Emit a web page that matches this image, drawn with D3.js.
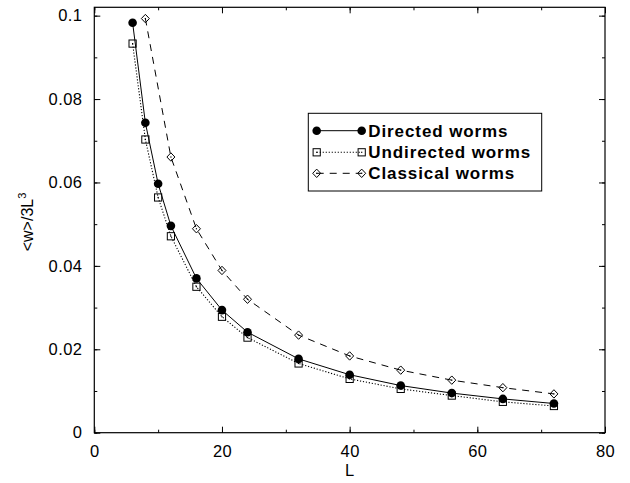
<!DOCTYPE html>
<html><head><meta charset="utf-8">
<script src="https://cdn.jsdelivr.net/npm/d3@7"></script>
<style>body{margin:0;background:#fff}svg{display:block}text{font-family:"Liberation Sans",Arial,Helvetica,sans-serif}</style>
</head><body>
<script>
const L_directed = [6, 8, 10, 12, 16, 20, 24, 32, 40, 48, 56, 64, 72];
const directed   = [0.0983, 0.0743, 0.0597, 0.0496, 0.0370, 0.0294, 0.0241, 0.0177, 0.0139, 0.0113, 0.0095, 0.0081, 0.0070];
const L_undirected = [6, 8, 10, 12, 16, 20, 24, 32, 40, 48, 56, 64, 72];
const undirected   = [0.0933, 0.0703, 0.0564, 0.0471, 0.0350, 0.0278, 0.0228, 0.0166, 0.0129, 0.0105, 0.0089, 0.0074, 0.0064];
const L_classical = [8, 12, 16, 20, 24, 32, 40, 48, 56, 64, 72];
const classical   = [0.0993, 0.0661, 0.0489, 0.0389, 0.0320, 0.0234, 0.0184, 0.0150, 0.0126, 0.0108, 0.0093];
const xTicks = [0, 20, 40, 60, 80];
const yTicks = [0, 0.02, 0.04, 0.06, 0.08, 0.1];
const yTickLabels = ["0", "0.02", "0.04", "0.06", "0.08", "0.1"];
const seriesNames = ["Directed worms", "Undirected worms", "Classical worms"];

const W = 630, H = 483;
const m = {left: 94.3, right: 605, top: 7.3, bottom: 432.7};
const svg = d3.select("body").append("svg").attr("width", W).attr("height", H);
const x = d3.scaleLinear().domain([0, 80]).range([m.left, m.right]);
const y = d3.scaleLinear().domain([0, 0.102]).range([m.bottom, m.top]);

const g = svg.append("g");
// axes with inward ticks
const fontSize = "16.5px";
function styleAxis(sel){ sel.select(".domain").remove(); sel.selectAll("line").attr("stroke","#000").attr("stroke-width",1); }
const xMinor = d3.range(0, 81, 10);
const yMinor = d3.range(0, 0.1001, 0.01);
// bottom
g.append("g").attr("transform", `translate(0,${m.bottom})`).call(d3.axisBottom(x).tickValues(xMinor).tickSize(-3).tickFormat("")).call(styleAxis);
g.append("g").attr("transform", `translate(0,${m.bottom})`).call(d3.axisBottom(x).tickValues(xTicks).tickSize(-6).tickPadding(16).tickFormat(d3.format("d"))).call(styleAxis)
  .selectAll("text").attr("font-size", fontSize).attr("fill","#000").attr("dy","0.5em").attr("letter-spacing","0.4px");
// top
g.append("g").attr("transform", `translate(0,${m.top})`).call(d3.axisTop(x).tickValues(xMinor).tickSize(-3).tickFormat("")).call(styleAxis);
g.append("g").attr("transform", `translate(0,${m.top})`).call(d3.axisTop(x).tickValues(xTicks).tickSize(-6).tickFormat("")).call(styleAxis);
// left
g.append("g").attr("transform", `translate(${m.left},0)`).call(d3.axisLeft(y).tickValues(yMinor).tickSize(-3).tickFormat("")).call(styleAxis);
g.append("g").attr("transform", `translate(${m.left},0)`).call(d3.axisLeft(y).tickValues(yTicks).tickSize(-6).tickPadding(12).tickFormat((d,i)=>yTickLabels[i])).call(styleAxis)
  .selectAll("text").attr("font-size", fontSize).attr("fill","#000").attr("letter-spacing","0.4px");
// right
g.append("g").attr("transform", `translate(${m.right},0)`).call(d3.axisRight(y).tickValues(yMinor).tickSize(-3).tickFormat("")).call(styleAxis);
g.append("g").attr("transform", `translate(${m.right},0)`).call(d3.axisRight(y).tickValues(yTicks).tickSize(-6).tickFormat("")).call(styleAxis);
// frame
g.append("rect").attr("x", m.left).attr("y", m.top).attr("width", m.right-m.left).attr("height", m.bottom-m.top)
  .attr("fill","none").attr("stroke","#000").attr("stroke-width",1.2);

// axis labels
svg.append("text").attr("x", (m.left+m.right)/2).attr("y", 476).attr("text-anchor","middle").attr("font-size","16.5px").text("L");
const yl = svg.append("text").attr("transform","translate(33,222) rotate(-90)").attr("text-anchor","middle").attr("font-size","16px");
yl.append("tspan").text("<w>/3L");
yl.append("tspan").attr("font-size","11px").attr("dy","-7").text("3");

// series
const line = d3.line().x(d=>x(d[0])).y(d=>y(d[1]));
const dData = L_directed.map((l,i)=>[l, directed[i]]);
const uData = L_undirected.map((l,i)=>[l, undirected[i]]);
const cData = L_classical.map((l,i)=>[l, classical[i]]);

const styles = [
  {dash: null, w: 1},
  {dash: "1.2,1.8", w: 1.1},
  {dash: "7,6", w: 1}
];
function drawLine(data, st){
  svg.append("path").datum(data).attr("d", line).attr("fill","none").attr("stroke","#000")
    .attr("stroke-width", st.w).attr("stroke-dasharray", st.dash);
}
drawLine(uData, styles[1]);
drawLine(cData, styles[2]);
drawLine(dData, styles[0]);

function circle(sel, cx, cy){ sel.append("circle").attr("cx",cx).attr("cy",cy).attr("r",4.3).attr("fill","#000"); }
function square(sel, cx, cy){
  sel.append("rect").attr("x",cx-3.6).attr("y",cy-3.6).attr("width",7.2).attr("height",7.2).attr("fill","none").attr("stroke","#000").attr("stroke-width",1);
  sel.append("rect").attr("x",cx-0.6).attr("y",cy-0.6).attr("width",1.2).attr("height",1.2).attr("fill","#000");
}
function diamond(sel, cx, cy){
  sel.append("path").attr("d",`M${cx},${cy-4.2}L${cx+4},${cy}L${cx},${cy+4.2}L${cx-4},${cy}Z`).attr("fill","none").attr("stroke","#000").attr("stroke-width",1);
  sel.append("rect").attr("x",cx-0.6).attr("y",cy-0.6).attr("width",1.2).attr("height",1.2).attr("fill","#000");
}
const pts = svg.append("g");
uData.forEach(d=>square(pts, x(d[0]), y(d[1])));
cData.forEach(d=>diamond(pts, x(d[0]), y(d[1])));
dData.forEach(d=>circle(pts, x(d[0]), y(d[1])));

// legend
const leg = svg.append("g");
leg.append("rect").attr("x",308.3).attr("y",113.3).attr("width",233.4).attr("height",77.7).attr("fill","#fff").attr("stroke","#000").attr("stroke-width",1);
const rows = [130.7, 152.3, 173.3];
const markers = [circle, square, diamond];
rows.forEach((ry, i)=>{
  leg.append("line").attr("x1",316.7).attr("x2",361.7).attr("y1",ry).attr("y2",ry).attr("stroke","#000")
    .attr("stroke-width",styles[i].w).attr("stroke-dasharray",styles[i].dash);
  markers[i](leg, 316.7, ry);
  markers[i](leg, 361.7, ry);
  leg.append("text").attr("x",368.3).attr("y",ry).attr("dy","0.36em").attr("font-size","17px").attr("font-weight","bold")
    .attr("letter-spacing","0.9px").text(seriesNames[i]);
});
</script>
</body></html>
